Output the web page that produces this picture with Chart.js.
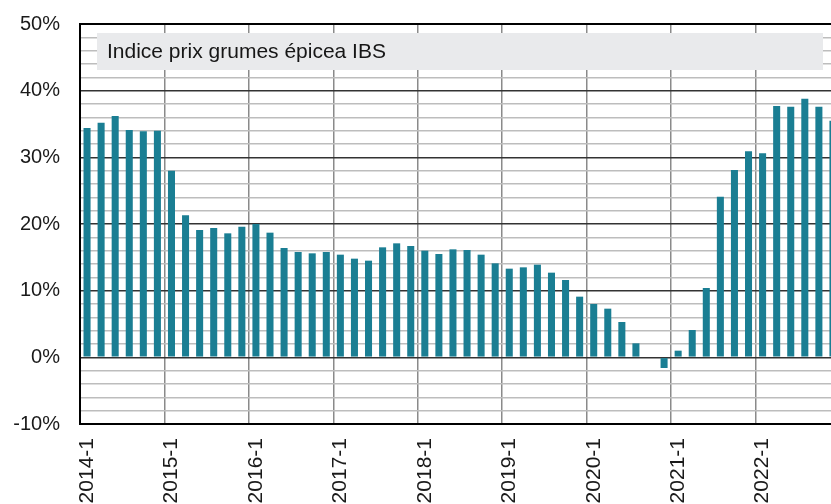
<!DOCTYPE html>
<html>
<head>
<meta charset="utf-8">
<script src="https://cdn.jsdelivr.net/npm/chart.js@4"></script>
<style>
  html, body { margin: 0; padding: 0; background: #fff; overflow: hidden; }
  #wrap { width: 840px; height: 504px; }
</style>
</head>
<body>
<div id="wrap"><canvas id="grumesChart" width="840" height="504"></canvas></div>
<script>
// Indice prix grumes épicea IBS, variation (%), bimestriel
const categories = [
  '2014-1', '2014-2', '2014-3', '2014-4', '2014-5', '2014-6',
  '2015-1', '2015-2', '2015-3', '2015-4', '2015-5', '2015-6',
  '2016-1', '2016-2', '2016-3', '2016-4', '2016-5', '2016-6',
  '2017-1', '2017-2', '2017-3', '2017-4', '2017-5', '2017-6',
  '2018-1', '2018-2', '2018-3', '2018-4', '2018-5', '2018-6',
  '2019-1', '2019-2', '2019-3', '2019-4', '2019-5', '2019-6',
  '2020-1', '2020-2', '2020-3', '2020-4', '2020-5', '2020-6',
  '2021-1', '2021-2', '2021-3', '2021-4', '2021-5', '2021-6',
  '2022-1', '2022-2', '2022-3', '2022-4', '2022-5', '2022-6'
];

const indiceIBS = [
  34.4, 35.2, 36.2, 34.1, 33.9, 34.0,
  28.0, 21.3, 19.1, 19.4, 18.6, 19.6,
  20.0, 18.7, 16.4, 15.8, 15.6, 15.8,
  15.4, 14.8, 14.5, 16.5, 17.1, 16.7,
  16.0, 15.5, 16.2, 16.1, 15.4, 14.1,
  13.3, 13.5, 13.9, 12.7, 11.6, 9.1,
  8.0, 7.3, 5.3, 2.1, null, -1.6,
  1.0, 4.1, 10.4, 24.1, 28.1, 30.9,
  30.6, 37.7, 37.6, 38.8, 37.6, 35.5
];

const yTicks = [-10, 0, 10, 20, 30, 40, 50];
const titreSerie = 'Indice prix grumes épicea IBS';

const barColor = '#1a7e93';
const fontLabels = { family: '"Liberation Sans", Arial, sans-serif', size: 20 };

// boite grise de la légende, dessinée par-dessus la grille
const legendBox = {
  id: 'legendBox',
  afterDraw(chart) {
    const ctx = chart.ctx;
    const area = chart.chartArea;
    ctx.save();
    ctx.fillStyle = '#e9eaec';
    ctx.fillRect(area.left + 17, area.top + 9, 726, 37);
    ctx.fillStyle = '#161616';
    ctx.font = '21px "Liberation Sans", Arial, sans-serif';
    ctx.textBaseline = 'middle';
    ctx.fillText(chart.data.datasets[0].label, area.left + 27, area.top + 28);
    ctx.restore();
  }
};

const config = {
  type: 'bar',
  data: {
    labels: categories,
    datasets: [{
      label: titreSerie,
      data: indiceIBS,
      backgroundColor: barColor,
      borderWidth: 0,
      barPercentage: 0.5,
      categoryPercentage: 1.0
    }]
  },
  options: {
    responsive: false,
    animation: false,
    layout: { padding: { top: 24, right: 0, bottom: 0, left: 0 } },
    plugins: {
      legend: { display: false },
      tooltip: { enabled: false }
    },
    scales: {
      x: {
        offset: true,
        border: { color: '#000', width: 2 },
        grid: {
          offset: true,
          drawTicks: false,
          color: ctx => (ctx.index % 6 === 0 ? '#8a8a8a' : 'rgba(0,0,0,0)'),
          lineWidth: 1.5
        },
        ticks: {
          autoSkip: false,
          minRotation: 90,
          maxRotation: 90,
          padding: 14,
          color: '#1a1a1a',
          font: { family: fontLabels.family, size: 21 },
          callback: function (val, i) {
            return i % 6 === 0 ? this.getLabelForValue(val) : '';
          }
        },
        afterFit: scale => {
          scale.height = 80;
          scale.paddingLeft = 0;
          scale.paddingRight = 0;
        }
      },
      y: {
        min: yTicks[0],
        max: yTicks[yTicks.length - 1],
        border: { color: '#000', width: 2 },
        grid: {
          drawTicks: false,
          color: ctx => {
            const v = ctx.tick.value;
            if (v === 50 || v === -10) return '#000';
            return v % 10 === 0 ? '#333' : '#bdbdbd';
          },
          lineWidth: ctx => {
            const v = ctx.tick.value;
            if (v === 50 || v === -10) return 2;
            return 1.5;
          }
        },
        ticks: {
          stepSize: 2,
          autoSkip: false,
          padding: 20,
          color: '#1a1a1a',
          font: fontLabels,
          callback: v => (yTicks.includes(v) ? v + '%' : '')
        },
        afterFit: scale => {
          scale.width = 80;
          scale.paddingTop = 0;
          scale.paddingBottom = 0;
        }
      }
    }
  },
  plugins: [legendBox]
};

new Chart(document.getElementById('grumesChart'), config);
</script>
</body>
</html>
